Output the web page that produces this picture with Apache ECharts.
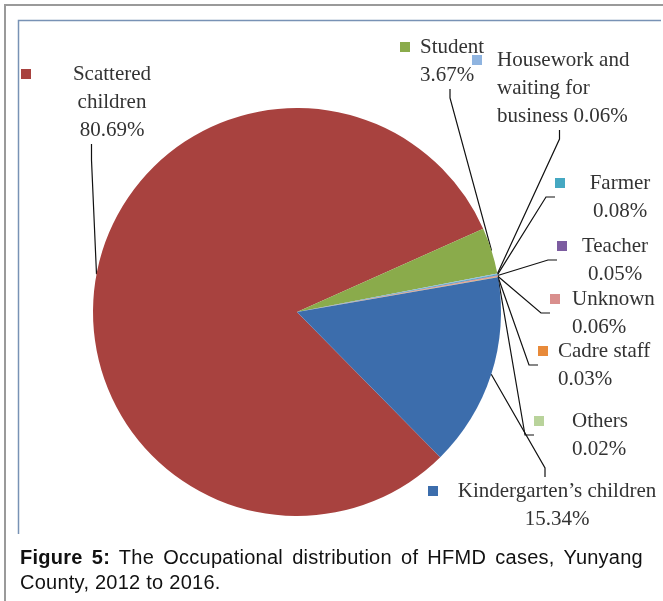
<!DOCTYPE html>
<html>
<head>
<meta charset="utf-8">
<script src="https://cdn.jsdelivr.net/npm/echarts@6/dist/echarts.min.js"></script>
<style>
  body { margin: 0; background: #fff; }
  #pie { position: absolute; left: 0; top: 0; width: 663px; height: 601px; }
  #caption {
    position: absolute; left: 20px; top: 545px; width: 623px;
    font-family: "Liberation Sans", Arial, sans-serif; font-size: 20px;
    letter-spacing: 0.25px; line-height: 25px; color: #111;
  }
  #caption .l1 { text-align: justify; text-align-last: justify; white-space: nowrap; }
</style>
</head>
<body>
<div id="pie"></div>
<div id="caption"><div class="l1"><b>Figure 5:</b> The Occupational distribution of HFMD cases, Yunyang</div><div>County, 2012 to 2016.</div></div>
<script>
// 各类人群及占比（%）
var names = ["Scattered children", "Student", "Housework and waiting for business", "Farmer",
  "Teacher", "Unknown", "Cadre staff", "Others", "Kindergarten\u2019s children"];
var values = [80.69, 3.67, 0.06, 0.08, 0.05, 0.06, 0.03, 0.02, 15.34];
// 标签里的分行
var labelLines = [
  ["Scattered", "children"],
  ["Student"],
  ["Housework and", "waiting for", "business"],
  ["Farmer"],
  ["Teacher"],
  ["Unknown"],
  ["Cadre staff"],
  ["Others"],
  ["Kindergarten\u2019s children"]
];
var colors = ["#a8423f", "#8aab4b", "#8fb4e0", "#45a8c2", "#7c5ca0", "#d98f8d", "#e88a3a", "#b9d39b", "#3c6dac"];

// label placement: [marker left, first line top, gap after marker, text width, text align, leader length2]
var labelPos = [
  [21, 60, 31, 100, "center", 16],
  [400, 33, 10, 80, "left", 9],
  [472, 46, 15, 150, "left", 9],
  [555, 169, 20, 70, "center", 9],
  [557, 232, 6, 84, "center", 9],
  [550, 285, 12, 90, "left", 9],
  [538, 337, 10, 110, "left", 9],
  [534, 407, 28, 120, "left", 9],
  [428, 477, 14, 210, "center", 9]
];

var myChart = echarts.init(document.getElementById("pie"));

var seriesData = names.map(function (n, i) {
  var p = labelPos[i];
  var lines = labelLines[i].slice();
  // 百分比接在最后一行（Housework）或者另起一行
  if (i === 2) {
    lines[2] = lines[2] + " " + values[i].toFixed(2) + "%";
  } else {
    lines.push(values[i].toFixed(2) + "%");
  }
  var text = lines.map(function (l, k) {
    return (k === 0 ? "{m|}{g|}" : "{s|}") + "{t|" + l + "}";
  }).join("\n");
  return {
    name: n,
    value: values[i],
    itemStyle: { color: colors[i] },
    labelLine: { length2: p[5] },
    label: {
      formatter: text,
      rich: {
        m: { width: 10, height: 10, backgroundColor: colors[i] },
        g: { width: p[2] },
        s: { width: 10 + p[2] },
        t: {
          width: p[3], align: p[4],
          fontFamily: "Liberation Serif, Times New Roman, serif",
          fontSize: 21, lineHeight: 28, color: "#333"
        }
      }
    }
  };
});

myChart.setOption({
  animation: false,
  graphic: [
    { type: "polyline", shape: { points: [[5, 601], [5, 5], [663, 5]] }, style: { stroke: "#9a9a9a", lineWidth: 2, fill: null } },
    { type: "polyline", shape: { points: [[18.5, 534], [18.5, 20.5], [661, 20.5]] }, style: { stroke: "#7892b5", lineWidth: 1.5, fill: null } }
  ],
  series: [
    {
      type: "pie",
      center: [297, 312],
      radius: 204,
      startAngle: -45.4,
      clockwise: true,
      avoidLabelOverlap: false,
      label: { show: true, position: "outside", lineHeight: 28 },
      labelLine: { show: true, length: 0, length2: 9, lineStyle: { color: "#111", width: 1.2 } },
      labelLayout: function (params) {
        var p = labelPos[params.dataIndex];
        return { x: p[0], y: p[1], align: "left", verticalAlign: "top" };
      },
      emphasis: { disabled: true },
      data: seriesData
    }
  ]
});
</script>
</body>
</html>
